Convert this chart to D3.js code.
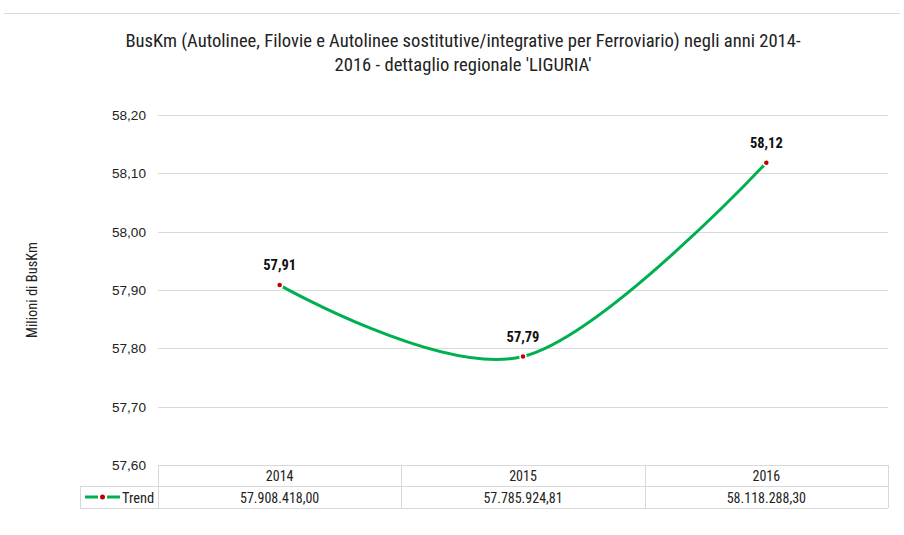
<!DOCTYPE html>
<html><head><meta charset="utf-8">
<script src="https://cdn.jsdelivr.net/npm/d3@7"></script>
<style>
body{margin:0;background:#fff;}
svg{font-family:"Liberation Sans Narrow","Roboto Condensed","Arial Narrow",sans-serif;}
</style></head>
<body><svg id="c" width="904" height="535"></svg>
<script>
const categories = ["2014","2015","2016"];
const values = [57.908418, 57.78592481, 58.1182883];
const tableLabels = ["57.908.418,00","57.785.924,81","58.118.288,30"];
const dataLabels = ["57,91","57,79","58,12"];
const yTicks = [57.6,57.7,57.8,57.9,58.0,58.1,58.2];
const seriesName = "Trend";

const svg = d3.select("#c");
const L=158, R=888, T=115, B=465;
const x = d3.scaleBand().domain(categories).range([L,R]);
const y = d3.scaleLinear().domain([57.6,58.2]).range([B,T]);
const fmt = v => v.toFixed(2).replace(".",",");

svg.append("line").attr("x1",4).attr("x2",900).attr("y1",13.5).attr("y2",13.5).attr("stroke","#d9d9d9");

const title = svg.append("text").attr("text-anchor","middle").attr("font-size",18.6).attr("fill","#222");
title.append("tspan").attr("x",463).attr("y",47).text("BusKm (Autolinee, Filovie e Autolinee sostitutive/integrative per Ferroviario)  negli anni 2014-");
title.append("tspan").attr("x",463).attr("y",71).text("2016 - dettaglio regionale 'LIGURIA'");

// gridlines
svg.append("g").selectAll("line").data(yTicks.slice(1)).join("line")
  .attr("x1",L).attr("x2",R).attr("y1",d=>Math.round(y(d))+0.5).attr("y2",d=>Math.round(y(d))+0.5)
  .attr("stroke","#d9d9d9");

// y axis labels
const ya = svg.append("g").attr("transform",`translate(${L-12},0)`)
  .call(d3.axisLeft(y).tickValues(yTicks).tickFormat(fmt).tickSize(0).tickPadding(0));
ya.select(".domain").remove();
ya.selectAll("text").attr("font-size",13.6).attr("fill","#222").attr("font-family",null);

svg.append("text").attr("transform","translate(37,290) rotate(-90)").attr("text-anchor","middle")
  .attr("font-size",14.5).attr("fill","#222").text("Milioni di BusKm");

// table
const tb = svg.append("g").attr("stroke","#d9d9d9").attr("fill","none");
const rowT=465, rowM=486, rowB=508, legL=80;
tb.append("line").attr("x1",L).attr("x2",R).attr("y1",rowT+0.5).attr("y2",rowT+0.5);
tb.append("line").attr("x1",legL).attr("x2",R).attr("y1",rowM+0.5).attr("y2",rowM+0.5);
tb.append("line").attr("x1",legL).attr("x2",R).attr("y1",rowB+0.5).attr("y2",rowB+0.5);
tb.append("line").attr("x1",legL+0.5).attr("x2",legL+0.5).attr("y1",rowM).attr("y2",rowB);
const cols=[L,...categories.map(c=>x(c)+x.bandwidth())];
tb.selectAll("line.v").data(cols).join("line").attr("class","v")
  .attr("x1",d=>Math.round(d)+0.5).attr("x2",d=>Math.round(d)+0.5).attr("y1",rowT).attr("y2",rowB);

svg.append("g").selectAll("text").data(categories).join("text")
  .attr("x",d=>x(d)+x.bandwidth()/2).attr("y",rowT+16).attr("text-anchor","middle")
  .attr("font-size",14).attr("fill","#222").text(d=>d);
svg.append("g").selectAll("text").data(tableLabels).join("text")
  .attr("x",(d,i)=>x(categories[i])+x.bandwidth()/2).attr("y",rowM+17).attr("text-anchor","middle")
  .attr("font-size",14).attr("fill","#222").text(d=>d);

// legend in table
svg.append("line").attr("x1",85).attr("x2",120).attr("y1",rowM+11).attr("y2",rowM+11)
  .attr("stroke","#00b050").attr("stroke-width",3).attr("stroke-dasharray","13,4,1,4,13");
svg.append("circle").attr("cx",102.5).attr("cy",rowM+11).attr("r",2.5).attr("fill","#c00000");
svg.append("text").attr("x",122).attr("y",rowM+17).attr("font-size",14.5).attr("fill","#222").text(seriesName);

// line
const pts = categories.map((c,i)=>[x(c)+x.bandwidth()/2, y(values[i])]);
svg.append("path").attr("d",d3.line().curve(d3.curveCardinal.tension(0))(pts))
  .attr("fill","none").attr("stroke","#00b050").attr("stroke-width",3);
svg.append("g").selectAll("circle").data(pts).join("circle")
  .attr("cx",d=>d[0]).attr("cy",d=>d[1]).attr("r",3).attr("fill","#c00000")
  .attr("stroke","#fff").attr("stroke-width",1.5);
svg.append("g").selectAll("text").data(pts).join("text")
  .attr("x",d=>d[0]).attr("y",d=>d[1]-15).attr("text-anchor","middle")
  .attr("font-size",14.5).attr("font-weight","bold").attr("fill","#111").text((d,i)=>dataLabels[i]);
</script></body></html>
